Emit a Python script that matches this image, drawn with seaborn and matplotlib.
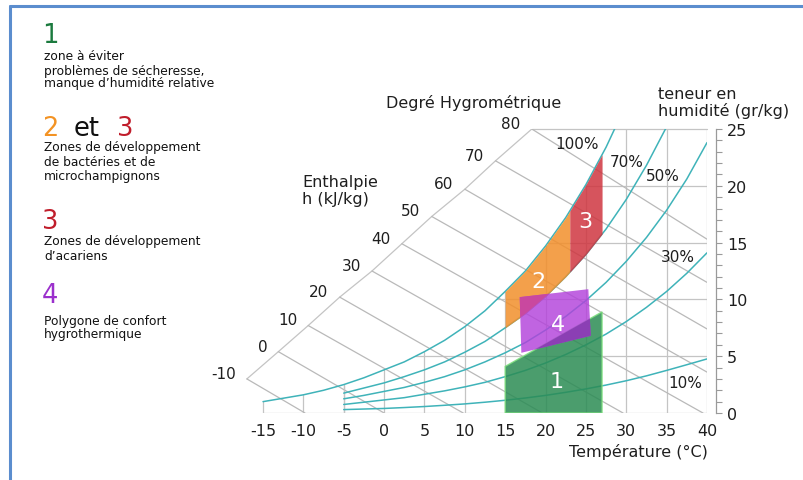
import numpy as np
import pandas as pd
import seaborn as sns
import matplotlib.pyplot as plt
from matplotlib.lines import Line2D

# saturation curve (100 %), g/kg
temps_sat = [-15, -12.5, -10, -7.5, -5, -2.5, 0, 2.5, 5, 7.5, 10, 12.5, 15, 17.5, 20, 22.5, 25, 27.5, 30]
w_100 = [1.0, 1.3, 1.6, 2.0, 2.5, 3.1, 3.8, 4.5, 5.4, 6.4, 7.6, 9.0, 10.7, 12.5, 14.7, 17.2, 20.1, 23.4, 27.2]

# other relative humidity curves, g/kg
temps_rh = [-5, -2.5, 0, 2.5, 5, 7.5, 10, 12.5, 15, 17.5, 20, 22.5, 25, 27.5, 30, 32.5, 35, 37.5, 40]
w_70 = [1.75, 2.2, 2.65, 3.2, 3.8, 4.5, 5.35, 6.3, 7.5, 8.75, 10.25, 12.0, 13.95, 16.2, 18.8, 21.8, 25.2, 29.0, 33.0]
w_50 = [1.25, 1.55, 1.9, 2.25, 2.7, 3.2, 3.8, 4.5, 5.3, 6.2, 7.3, 8.5, 9.9, 11.5, 13.35, 15.45, 17.85, 20.6, 23.8]
w_30 = [0.75, 0.95, 1.15, 1.35, 1.65, 1.95, 2.3, 2.7, 3.2, 3.75, 4.4, 5.15, 6.0, 6.95, 8.05, 9.3, 10.7, 12.3, 14.1]
w_10 = [0.3, 0.35, 0.4, 0.48, 0.57, 0.68, 0.8, 0.95, 1.12, 1.32, 1.55, 1.82, 2.12, 2.46, 2.84, 3.27, 3.75, 4.25, 4.76]
rh_labels = ['100%', '70%', '50%', '30%', '10%']
rh_label_T = [23.9, 30.1, 34.5, 36.4, 37.3]
rh_label_w = [23.7, 22.1, 20.9, 13.8, 2.7]

# enthalpy lines (kJ/kg): start on the diagonal scale, end on the frame
h_levels = [-10, 0, 10, 20, 30, 40, 50, 60, 70, 80]
h_start_T = [-17.0, -13.1, -9.4, -5.5, -1.5, 2.2, 5.9, 10.0, 13.8, 18.3]
h_start_w = [3.0, 5.4, 7.7, 10.2, 12.5, 14.9, 17.3, 19.7, 22.2, 25.0]
h_end_T = [-9.8, 0, 9.8, 19.6, 29.6, 39.5, 40, 40, 40, 40]
h_end_w = [0, 0, 0, 0, 0, 0, 3.6, 7.4, 11.5, 15.3]

# zones
zone1_T = [15, 15, 27, 27]
zone1_w = [0, 4.1, 8.9, 0]
zone2_T = [15, 23]     # between 70 % and 100 %
zone3_T = [23, 27]     # between 70 % and 100 %
zone4_T = [16.8, 25.3, 25.6, 17.0]
zone4_w = [10.2, 10.9, 6.8, 5.3]

x_ticks = [-15, -10, -5, 0, 5, 10, 15, 20, 25, 30, 35, 40]
y_ticks = [0, 5, 10, 15, 20, 25]

sns.set_theme(style='white')
plt.rcParams['font.family'] = ['DejaVu Sans']
plt.rcParams['axes.unicode_minus'] = False

W, H = 804, 481
TEAL = '#3fb3b9'
GRID = '#c4c4c4'
TXT = '#1e1e1e'

fig = plt.figure(figsize=(W / 100, H / 100), dpi=100)
ax = fig.add_axes([238.8 / W, 67 / H, 468.2 / W, 284 / H])
ax.set_xlim(-18, 40)
ax.set_ylim(0, 25)

# grid of the chart
for t in x_ticks[:-1]:
    top = min(np.interp(t, temps_sat, w_100), 25)
    ax.plot([t, t], [0, top], color=GRID, lw=0.9, zorder=1)
for w in y_ticks[1:-1]:
    ax.plot([np.interp(w, w_100, temps_sat), 40], [w, w], color=GRID, lw=0.9, zorder=1)
ax.plot([-15, 40], [0, 0], color=GRID, lw=0.9, zorder=1)
ax.plot([40, 40], [0, 25], color=GRID, lw=0.9, zorder=1)
ax.plot([h_start_T[-1], 40], [25, 25], color=GRID, lw=0.9, zorder=1, clip_on=False)
ax.plot(h_start_T, h_start_w, color=GRID, lw=0.9, zorder=1)
for t0, w0, t1, w1 in zip(h_start_T, h_start_w, h_end_T, h_end_w):
    ax.plot([t0, t1], [w0, w1], color='#b9b9b9', lw=0.9, zorder=1)

# humidity curves
rows = [pd.DataFrame({'T': temps_sat, 'w': w_100, 'rh': 100})]
for rh, vals in zip([70, 50, 30, 10], [w_70, w_50, w_30, w_10]):
    rows.append(pd.DataFrame({'T': temps_rh, 'w': vals, 'rh': rh}))
curves = pd.concat(rows, ignore_index=True)
sns.lineplot(data=curves, x='T', y='w', units='rh', estimator=None, sort=False,
             color=TEAL, lw=1.1, ax=ax, legend=False, zorder=2)
ax.plot([-5, -5], [0, 2.5], color=GRID, lw=0.9, zorder=1)

# zones
z1 = ax.fill(zone1_T, zone1_w, facecolor=(0.17, 0.55, 0.33), alpha=0.85,
             edgecolor='#7ee07e', lw=1, zorder=3)[0]
zfill = []
for (ta, tb), col in [(zone2_T, (0.95, 0.56, 0.17)), (zone3_T, (0.81, 0.21, 0.25))]:
    tz = np.linspace(ta, tb, 60)
    zfill.append(ax.fill_between(tz, np.interp(tz, temps_rh, w_70),
                                 np.interp(tz, temps_sat, w_100),
                                 color=col, alpha=0.85, lw=0, zorder=3))
ax.fill(zone4_T, zone4_w, facecolor=(0.70, 0.26, 0.86), alpha=0.82, lw=0, zorder=4)
# darker tint where the comfort polygon overlaps zones 1 and 2
ov1 = ax.fill(zone4_T, zone4_w, facecolor='#8b3fb4', lw=0, zorder=4.1)[0]
ov1.set_clip_path(z1)
ov2 = ax.fill(zone4_T, zone4_w, facecolor='#c9489f', lw=0, zorder=4.1)[0]
ov2.set_clip_path(zfill[0].get_paths()[0], ax.transData)

zone_txt = dict(color='white', fontsize=16, ha='center', va='center', zorder=5)
ax.text(21.4, 2.8, '1', **zone_txt)
ax.text(19.1, 11.6, '2', **zone_txt)
ax.text(24.9, 16.9, '3', **zone_txt)
ax.text(21.6, 7.8, '4', **zone_txt)

for lab, t, w in zip(rh_labels, rh_label_T, rh_label_w):
    ax.text(t, w, lab, fontsize=11, color=TXT, ha='center', va='center', zorder=5)

for h, t, w in zip(h_levels, h_start_T, h_start_w):
    ax.annotate(str(h), (t, w), xytext=(-8, 4), textcoords='offset points',
                ha='right', va='center', fontsize=11, color=TXT)

# axes
for s in ['left', 'top', 'bottom']:
    ax.spines[s].set_visible(False)
ax.spines['right'].set_position(('outward', 6.5))
ax.spines['right'].set_color('#9a9a9a')
ax.spines['right'].set_linewidth(0.9)
ax.set_xticks(x_ticks)
ax.set_xticklabels([str(v) for v in x_ticks])
ax.yaxis.tick_right()
ax.set_yticks(y_ticks)
ax.set_yticks(range(0, 26), minor=True)
ax.tick_params(axis='x', length=0, pad=7, labelsize=11.5, labelcolor=TXT)
ax.tick_params(axis='y', which='both', right=True, length=4, width=0.8,
               color='#9a9a9a', pad=4, labelsize=11.5, labelcolor=TXT)
ax.set_xlabel('')
ax.set_ylabel('')

def ft(x, y, s, **kw):
    fig.text(x / W, 1 - y / H, s, **kw)

ft(708, 452, 'Température (°C)', ha='right', va='center', fontsize=11.5, color=TXT)
ft(474, 103, 'Degré Hygrométrique', ha='center', va='center', fontsize=11.5, color=TXT)
ft(658, 103, 'teneur en\nhumidité (gr/kg)', ha='left', va='center', fontsize=11.5,
   color=TXT, linespacing=1.15)
ft(302, 191, 'Enthalpie\nh (kJ/kg)', ha='left', va='center', fontsize=11.5,
   color=TXT, linespacing=1.2)

# legend on the left
small = dict(ha='left', va='center', fontsize=8.8, color='#111111')
big = dict(ha='left', va='center', fontsize=18.5)
ft(42, 36, '1', color='#1b7a3e', **big)
ft(44, 57, 'zone à éviter', **small)
ft(44, 71, 'problèmes de sécheresse,', **small)
ft(44, 84, 'manque d’humidité relative', **small)
ft(42, 129, '2', color='#f39324', **big)
ft(74, 129, 'et', color='#111111', **big)
ft(117, 129, '3', color='#c01d2b', **big)
ft(44, 148, 'Zones de développement', **small)
ft(44, 163, 'de bactéries et de', **small)
ft(44, 177, 'microchampignons', **small)
ft(42, 222, '3', color='#c01d2b', **big)
ft(44, 242, 'Zones de développement', **small)
ft(44, 257, 'd’acariens', **small)
ft(42, 296, '4', color='#9b30cc', **big)
ft(44, 322, 'Polygone de confort', **small)
ft(44, 335, 'hygrothermique', **small)

# blue frame
fig.add_artist(Line2D([10 / W, 10 / W], [0, 1 - 7 / H], color='#5b8dce', lw=2.2))
fig.add_artist(Line2D([10 / W, 1], [1 - 7 / H, 1 - 7 / H], color='#5b8dce', lw=2.2))

fig.savefig('out.png', dpi=100, facecolor='white')
